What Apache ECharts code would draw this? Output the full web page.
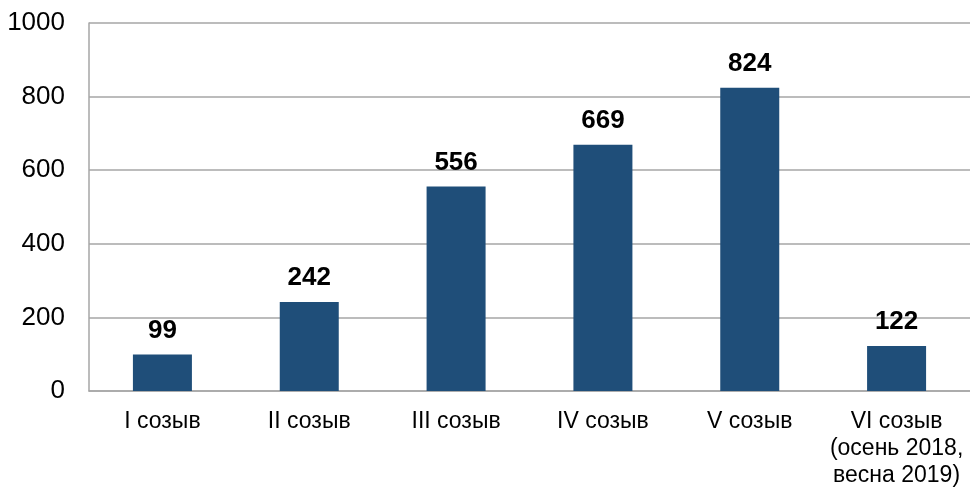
<!DOCTYPE html>
<html>
<head>
<meta charset="utf-8">
<script src="https://cdn.jsdelivr.net/npm/echarts@6/dist/echarts.min.js"></script>
<style>
  html, body { margin: 0; padding: 0; background: #fff; }
  #chart { width: 970px; height: 489px; }
</style>
</head>
<body>
<div id="chart"></div>
<script>
// данные
var categories = ['I созыв', 'II созыв', 'III созыв', 'IV созыв', 'V созыв', 'VI созыв\n(осень 2018,\nвесна 2019)'];
var values = [99, 242, 556, 669, 824, 122];
var yTicks = [0, 200, 400, 600, 800, 1000];

var chart = echarts.init(document.getElementById('chart'));
var font = '"Liberation Sans", Arial, sans-serif';
var option = {
  animation: false,
  grid: { left: 89, right: 0, top: 23, bottom: 97 },
  xAxis: {
    type: 'category',
    data: categories,
    axisTick: { show: false },
    axisLine: { lineStyle: { color: '#A6A6A6', width: 1.5 } },
    axisLabel: {
      color: '#000',
      fontFamily: font,
      fontSize: 23,
      lineHeight: 27,
      margin: 17,
      interval: 0
    }
  },
  yAxis: {
    type: 'value',
    min: yTicks[0],
    max: yTicks[yTicks.length - 1],
    interval: 200,
    axisLine: { show: true, lineStyle: { color: '#A6A6A6', width: 1.5 } },
    axisTick: { show: false },
    splitLine: { lineStyle: { color: '#A6A6A6', width: 1.5 } },
    axisLabel: {
      color: '#000',
      fontFamily: font,
      fontSize: 26,
      margin: 24,
      formatter: function (v) { return String(v); }
    }
  },
  series: [{
    type: 'bar',
    data: values,
    barWidth: 59,
    itemStyle: { color: '#1F4E79' },
    label: {
      show: true,
      position: 'top',
      distance: 11,
      color: '#000',
      fontFamily: font,
      fontSize: 26,
      fontWeight: 'bold'
    }
  }]
};
chart.setOption(option);
</script>
</body>
</html>
